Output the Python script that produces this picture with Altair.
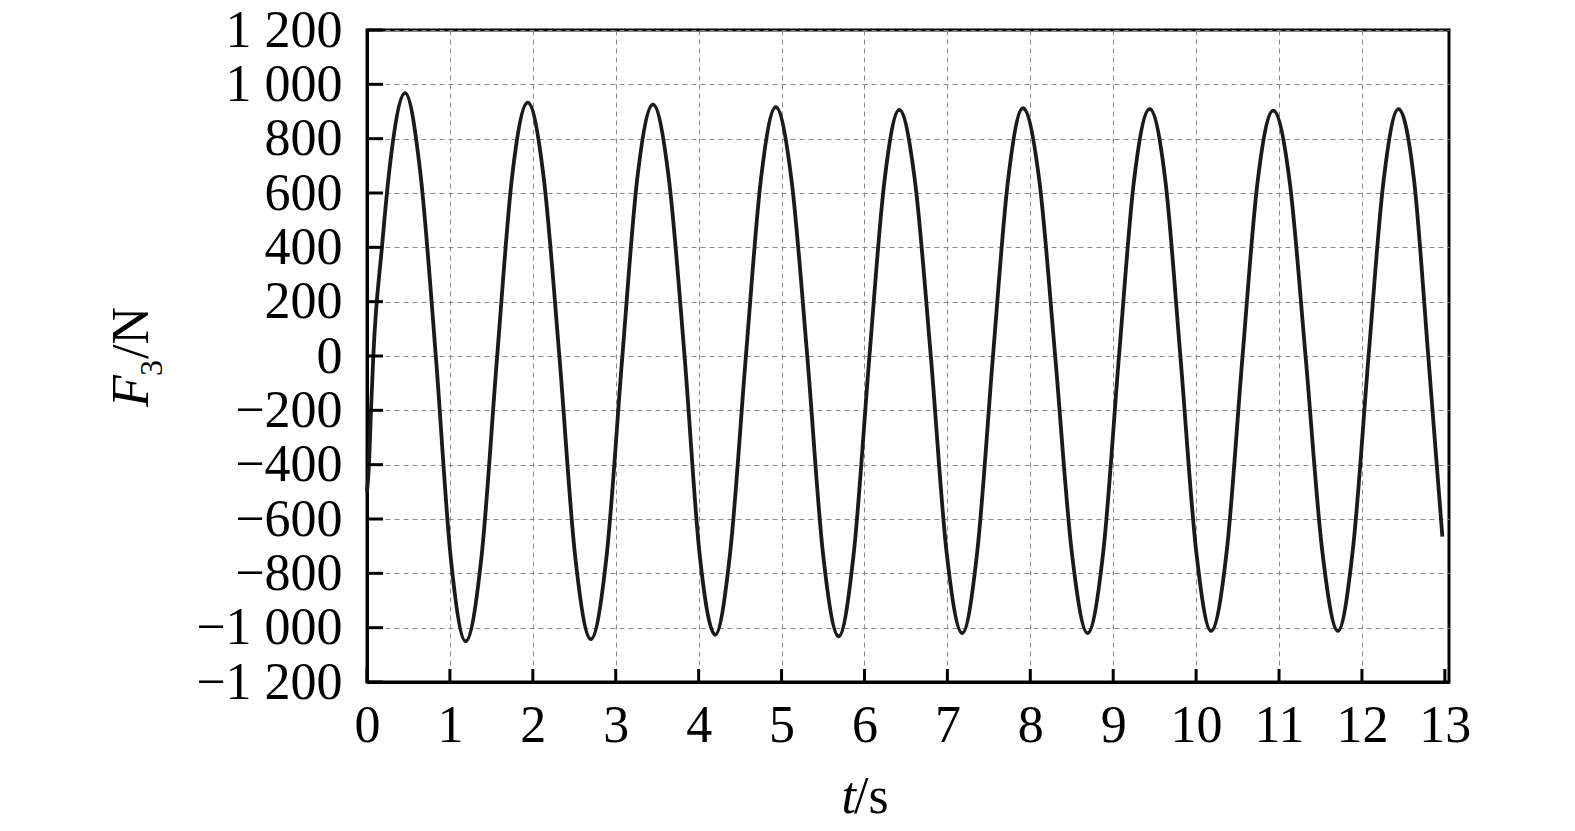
import altair as alt
import pandas as pd

# ---- data ----
t_s = [0.000, 0.024, 0.048, 0.076, 0.18, 0.27, 0.46,
       0.64, 0.83, 1.01, 1.19,
       1.38, 1.57, 1.75, 1.94,
       2.13, 2.32, 2.51, 2.70,
       2.89, 3.08, 3.26, 3.45,
       3.64, 3.83, 4.01, 4.20,
       4.38, 4.57, 4.75, 4.93,
       5.12, 5.31, 5.50, 5.69,
       5.87, 6.06, 6.24, 6.42,
       6.61, 6.80, 6.99, 7.18,
       7.36, 7.55, 7.73, 7.91,
       8.11, 8.30, 8.50, 8.69,
       8.88, 9.07, 9.25, 9.44,
       9.63, 9.81, 10.00, 10.18,
       10.37, 10.56, 10.74, 10.93,
       11.13, 11.32, 11.52, 11.71,
       11.89, 12.08, 12.26, 12.44,
       12.63, 12.80, 12.97]

f3_N = [-500, -400, -200, 0, 400, 685, 968,
        684, 0, -742, -1050,
        -742, 0, 660, 933,
        660, 0, -735, -1042,
        -735, 0, 654, 925,
        654, 0, -724, -1026,
        -724, 0, 648, 916,
        648, 0, -728, -1032,
        -728, 0, 641, 906,
        641, 0, -721, -1020,
        -721, 0, 643, 912,
        643, 0, -721, -1020,
        -721, 0, 643, 909,
        643, 0, -716, -1012,
        -716, 0, 638, 903,
        638, 0, -714, -1012,
        -714, 0, 643, 909,
        643, 0, -665]

x_ticks = list(range(0, 14))
y_ticks = list(range(-1200, 1201, 200))

assert len(t_s) == len(f3_N)

df = pd.DataFrame({"t": t_s, "F": f3_N})
df_xt = pd.DataFrame({"t": x_ticks})
df_yt = pd.DataFrame({"F": y_ticks})
one = pd.DataFrame({"a": [0]})

W, H = 1082, 652
FONT = "Liberation Serif"
FS = 52

xscale = alt.Scale(domain=[0, 13.05], nice=False, zero=False)
yscale = alt.Scale(domain=[-1200, 1200], nice=False, zero=False)

x_axis = alt.Axis(
    values=x_ticks, title=None, ticks=False, labelPadding=18, format="d",
    labelFlush=False, labelOverlap=False,
    grid=True, gridDash=[5, 4], gridColor="#8a8a8a", gridWidth=1,
    gridOpacity={"condition": {"test": "datum.value <= 0 || datum.value >= 13", "value": 0}, "value": 1},
    domainColor="black", domainWidth=3,
)
y_axis = alt.Axis(
    values=y_ticks, title=None, ticks=False, labelPadding=25,
    labelFlush=False, labelOverlap=False,
    labelExpr="(datum.value < 0 ? '\u2212' : '') + replace(format(abs(datum.value), ','), ',', ' ')",
    grid=True, gridDash=[5, 4], gridColor="#8a8a8a", gridWidth=1,
    domainColor="black", domainWidth=3,
)

line = alt.Chart(df).mark_line(
    color="#1a1a1a", strokeWidth=3.8, interpolate="monotone"
).encode(
    x=alt.X("t:Q", scale=xscale, axis=x_axis),
    y=alt.Y("F:Q", scale=yscale, axis=y_axis),
)

yticks = alt.Chart(df_yt).mark_rule(color="black", strokeWidth=3).encode(
    y=alt.Y("F:Q", scale=yscale),
    x=alt.value(0), x2=alt.value(16),
)
xticks = alt.Chart(df_xt).mark_rule(color="black", strokeWidth=3).encode(
    x=alt.X("t:Q", scale=xscale),
    y=alt.value(H), y2=alt.value(H - 13),
)

def txt(s, x, y, size=FS, style="normal", align="left", angle=0):
    kw = dict(font=FONT, fontSize=size, fontStyle=style, align=align,
              baseline="alphabetic", color="black")
    if angle:
        kw["angle"] = angle
    return alt.Chart(one).mark_text(text=s, **kw).encode(
        x=alt.value(x), y=alt.value(y))

titles = [
    txt("t", 489, 783, style="italic", align="right"),
    txt("/s", 487, 783),
    txt("F", -219, 377, style="italic", angle=270),
    txt("3", -205, 346, size=32, angle=270),
    txt("/N", -219, 329, angle=270),
]

chart = alt.layer(line, yticks, xticks, *titles).properties(
    width=W, height=H,
    autosize=alt.AutoSizeParams(type="none"),
    padding={"left": 359, "top": 22, "right": 110, "bottom": 141},
).configure_view(
    stroke="black", strokeWidth=3
).configure_axis(
    labelFont=FONT, labelFontSize=FS, labelColor="black",
)

chart.save("out.html", embed_options={"renderer": "svg", "actions": False})
